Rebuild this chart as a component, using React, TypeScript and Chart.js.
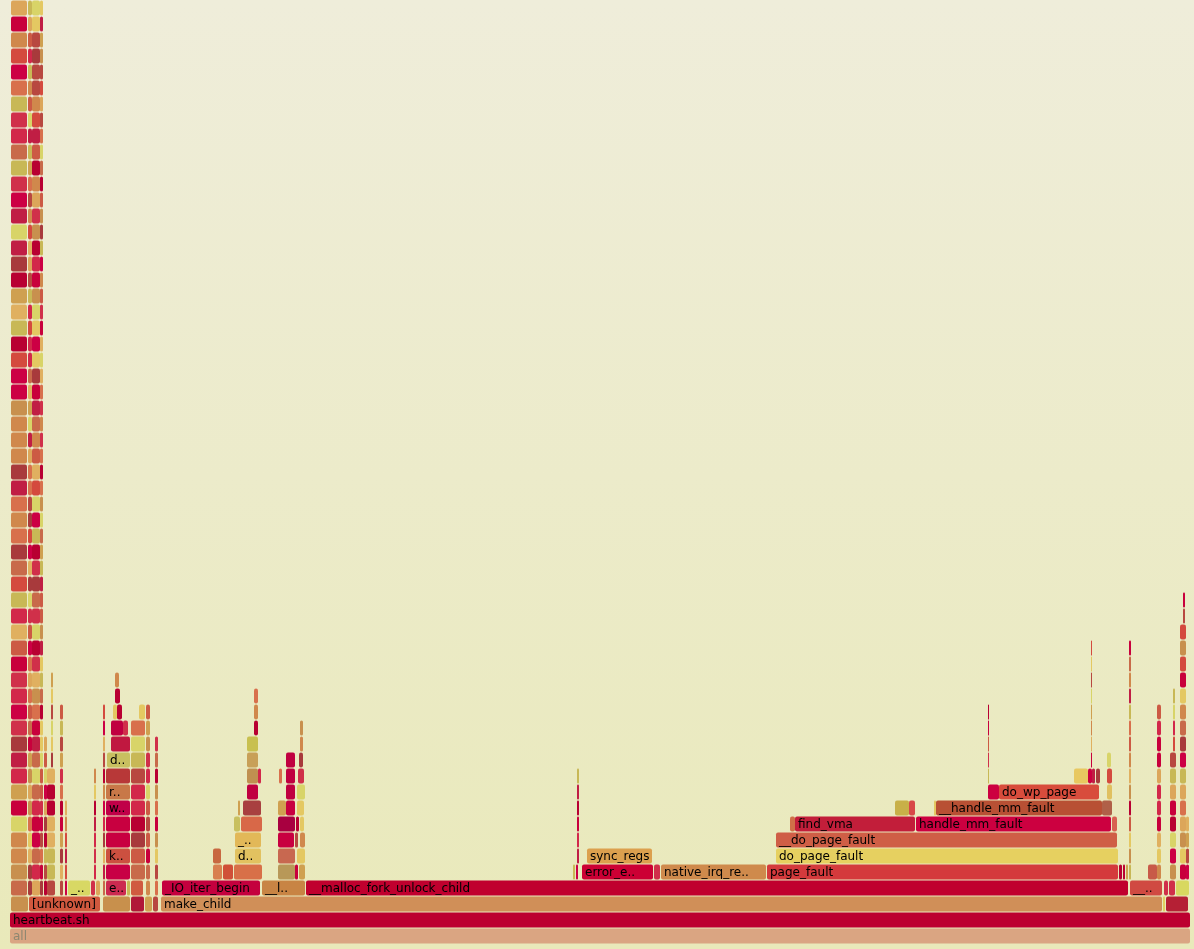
import React, { useEffect, useRef } from "react";
import { Chart, registerables } from "chart.js";

Chart.register(...registerables);

// A frame: [stack depth (level), first sample, last sample, label shown]
type Frame = [number, number, number, string];
// A column of one-sample-wide stack frames: [first sample, last sample, from level, to level]
type Column = [number, number, number, number];

const TOTAL_SAMPLES = 1180;
const LEVEL_COUNT = 59;
const levelLabels: string[] = Array.from({ length: LEVEL_COUNT }, (_, i) => String(i));

const baseFrames: Frame[] = [
  [0, 0, 1180, "all"],
  [1, 0, 1180, "heartbeat.sh"],
  [2, 1, 18, ""], [2, 19, 90, "[unknown]"], [2, 93, 120, ""], [2, 121, 134, ""],
  [2, 135, 142, ""], [2, 143, 148, ""], [2, 151, 1152, "make_child"],
  [2, 1153, 1155, ""], [2, 1156, 1178, ""],
  [3, 152, 250, "_IO_iter_begin"], [3, 252, 295, "__l.."],
  [3, 296, 1118, "__malloc_fork_unlock_child"], [3, 1120, 1152, "__.."],
  [3, 1154, 1158, ""], [3, 1159, 1165, ""], [3, 1166, 1179, ""],
];

const leftFrames: Frame[] = [
  [3, 58, 80, "_.."], [3, 81, 85, ""], [3, 86, 90, ""], [3, 96, 116, "e.."],
  [3, 117, 120, ""], [3, 121, 133, ""],
  [4, 96, 120, ""], [5, 96, 120, "k.."], [6, 96, 120, ""], [7, 96, 120, ""],
  [8, 96, 120, "w.."], [9, 96, 120, "r.."], [10, 96, 120, ""], [11, 97, 120, "d.."],
  [12, 101, 120, ""], [13, 101, 113, ""], [13, 113, 118, ""], [14, 103, 107, ""],
  [14, 107, 112, ""], [15, 105, 110, ""], [16, 105, 109, ""], [14, 129, 135, ""],
];

const middleFrames: Frame[] = [
  [4, 203, 212, ""], [5, 203, 211, ""], [4, 213, 223, ""], [4, 224, 252, ""],
  [5, 225, 251, "d.."], [6, 225, 251, "_.."], [7, 224, 230, ""], [7, 231, 252, ""],
  [8, 228, 230, ""], [8, 233, 251, ""], [9, 237, 248, ""], [10, 237, 248, ""],
  [10, 248, 251, ""], [11, 237, 248, ""], [12, 237, 248, ""], [13, 244, 248, ""],
  [14, 244, 248, ""], [15, 244, 248, ""],
  [4, 268, 285, ""], [4, 285, 288, ""], [4, 289, 295, ""], [5, 268, 285, ""],
  [5, 287, 295, ""], [6, 268, 284, ""], [6, 285, 288, ""], [6, 290, 295, ""],
  [7, 268, 285, ""], [7, 286, 289, ""], [7, 290, 294, ""], [8, 268, 276, ""],
  [8, 276, 285, ""], [8, 287, 294, ""], [9, 276, 285, ""], [9, 287, 295, ""],
  [10, 269, 272, ""], [10, 276, 285, ""], [10, 288, 294, ""], [11, 276, 285, ""],
  [11, 289, 293, ""], [12, 290, 293, ""], [13, 290, 293, ""],
];

const pageFaultFrames: Frame[] = [
  [4, 563, 565, ""], [4, 566, 568, ""], [4, 572, 643, "error_e.."], [4, 644, 650, ""],
  [4, 651, 756, "native_irq_re.."], [4, 757, 1108, "page_fault"],
  [5, 577, 642, "sync_regs"], [5, 766, 1108, "do_page_fault"],
  [6, 766, 1107, "__do_page_fault"],
  [7, 780, 785, ""], [7, 785, 905, "find_vma"], [7, 906, 1101, "handle_mm_fault"],
  [7, 1102, 1107, ""],
  [8, 885, 899, ""], [8, 899, 905, ""], [8, 924, 926, ""],
  [8, 926, 1092, "__handle_mm_fault"], [8, 1092, 1102, ""],
  [9, 978, 989, ""], [9, 989, 1089, "do_wp_page"], [9, 1097, 1102, ""],
  [10, 1064, 1078, ""], [10, 1078, 1082, ""], [10, 1082, 1085, ""],
  [10, 1086, 1090, ""], [10, 1097, 1102, ""], [11, 1097, 1101, ""],
];

const rightFrames: Frame[] = [
  [4, 1109, 1112, ""], [4, 1113, 1115, ""], [4, 1116, 1118, ""], [4, 1138, 1147, ""],
];

const towerColumns: Column[] = [
  [1, 17, 3, 58], [18, 22, 3, 58], [22, 30, 3, 58], [30, 33, 3, 58],
  [34, 37, 3, 12], [37, 45, 3, 10], [41, 43, 11, 16], [50, 53, 3, 14], [55, 57, 3, 8],
  [84, 86, 4, 10], [93, 95, 3, 14], [121, 135, 4, 13], [136, 140, 3, 14], [145, 148, 3, 12],
];

const thinColumns: Column[] = [
  [567, 569, 5, 10], [978, 979, 10, 14], [1081, 1082, 11, 18],
  [1119, 1121, 4, 18], [1147, 1151, 4, 14], [1160, 1166, 4, 11], [1163, 1165, 12, 15],
  [1170, 1176, 4, 19], [1173, 1175, 20, 21], [1176, 1179, 4, 7],
];

// ---- styles ----
const namedColors: Record<string, string> = {
  "all@0": "#daa582",
  "heartbeat.sh@1": "#bc0030",
  "[unknown]@2": "#d0583e",
  "make_child@2": "#d08f58",
  "_..@3": "#d8d864",
  "e..@3": "#cc2a50",
  "_IO_iter_begin@3": "#c4003e",
  "__l..@3": "#c88444",
  "__malloc_fork_unlock_child@3": "#c0002e",
  "__..@3": "#d04a42",
  "error_e..@4": "#cc0034",
  "native_irq_re..@4": "#cf8a4c",
  "page_fault@4": "#d43a3c",
  "sync_regs@5": "#dca04e",
  "do_page_fault@5": "#e6d060",
  "__do_page_fault@6": "#cf5e46",
  "find_vma@7": "#c21e3a",
  "handle_mm_fault@7": "#cc0040",
  "__handle_mm_fault@8": "#b85034",
  "do_wp_page@9": "#d84c3c",
  "k..@5": "#cc5040",
  "w..@8": "#c00048",
  "r..@9": "#c87848",
  "d..@11": "#c8c060",
  "d..@5": "#e2c260",
  "_..@6": "#e2b858",
};

// colours of some unlabeled frames, keyed by "level:first sample"
const unnamedColors: Record<string, string> = {
  "2:1": "#c8904e", "2:93": "#c8904c", "2:121": "#b01838", "2:1153": "#e0d060", "2:1156": "#b52035",
  "3:1166": "#d8d860", "3:121": "#d05a40",
  "4:96": "#c80045", "6:96": "#c80040", "7:96": "#c80040", "10:96": "#b83838",
  "12:101": "#c01840", "13:101": "#c00040",
  "4:203": "#d88050", "4:213": "#d05038", "4:224": "#d87048", "5:203": "#c86840",
  "7:224": "#c8c060", "7:231": "#d86848", "8:233": "#a84040", "9:237": "#c00040",
  "10:237": "#c09050", "11:237": "#c8a058", "12:237": "#c8c050",
  "4:268": "#b89858", "5:268": "#c86850", "6:268": "#c80040", "7:268": "#a80040",
  "8:268": "#d0a050", "8:276": "#c80040", "9:276": "#c00040", "10:276": "#c00040", "11:276": "#c00040",
  "7:780": "#d07048", "7:1102": "#d86050",
  "8:885": "#c8b048", "8:899": "#d84848", "8:1092": "#b06048",
  "9:978": "#cc0040", "9:1097": "#e0c060", "10:1064": "#e8c860", "10:1078": "#cc0040",
  "4:1138": "#c85a48",
};

const palette = [
  "#c8003c", "#cc0044", "#b80032", "#d0304a", "#d44a3e", "#cc5a44", "#d8704c",
  "#d0884c", "#c8904e", "#dca65a", "#e4c862", "#d8d468", "#c8b856", "#b84840",
  "#a83a3c", "#c01e44", "#e0b060", "#cfa050", "#d2284a", "#c86a4a",
];

function frameColor(f: Frame): string {
  const key = `${f[3]}@${f[0]}`;
  if (f[3] && namedColors[key]) return namedColors[key];
  const pos = `${f[0]}:${f[1]}`;
  if (!f[3] && unnamedColors[pos]) return unnamedColors[pos];
  let h = Math.imul(f[0] + 11, 2654435761) ^ Math.imul(f[1] + 7, 40503) ^ Math.imul(f[2] + 3, 2246822519);
  h ^= h >>> 13;
  h = Math.imul(h, 3266489917);
  h ^= h >>> 16;
  return palette[(h >>> 0) % palette.length];
}

function buildFrames(): Frame[] {
  const out: Frame[] = [];
  for (const c of [...towerColumns, ...thinColumns]) {
    for (let l = c[2]; l <= c[3]; l++) out.push([l, c[0], c[1], ""]);
  }
  return [...baseFrames, ...leftFrames, ...middleFrames, ...pageFaultFrames, ...rightFrames, ...out];
}

export default function App() {
  const ref = useRef<HTMLCanvasElement | null>(null);

  useEffect(() => {
    const canvas = ref.current;
    if (!canvas) return;
    const frames = buildFrames();

    const backgroundPlugin = {
      id: "flameBackground",
      beforeDraw(chart: Chart) {
        const { ctx, width, height } = chart;
        const g = ctx.createLinearGradient(0, 0, 0, height);
        g.addColorStop(0.0, "#efedda");
        g.addColorStop(1.0, "#e9e9ba");
        ctx.save();
        ctx.fillStyle = g;
        ctx.fillRect(0, 0, width, height);
        ctx.restore();
      },
    };

    const labelPlugin = {
      id: "flameLabels",
      afterDatasetsDraw(chart: Chart) {
        const ctx = chart.ctx;
        const meta = chart.getDatasetMeta(0);
        ctx.save();
        ctx.font = '12px "DejaVu Sans", Verdana, sans-serif';
        ctx.textBaseline = "alphabetic";
        ctx.textAlign = "left";
        meta.data.forEach((el: any, i: number) => {
          const f = frames[i];
          if (!f[3]) return;
          const left = Math.min(el.base, el.x);
          const right = Math.max(el.base, el.x);
          const top = el.y - el.height / 2;
          ctx.save();
          ctx.beginPath();
          ctx.rect(left, top, right - left, el.height);
          ctx.clip();
          ctx.fillStyle = f[0] === 0 ? "#8d8670" : "#000000";
          ctx.fillText(f[3], left + 3, el.y + 3.5);
          ctx.restore();
        });
        ctx.restore();
      },
    };

    const chart = new Chart(canvas, {
      type: "bar",
      data: {
        labels: levelLabels,
        datasets: [
          {
            data: frames.map((f) => ({ x: [f[1], f[2]], y: String(f[0]) })) as any,
            backgroundColor: frames.map(frameColor),
            borderWidth: 0,
            borderSkipped: false,
            borderRadius: 2,
            barThickness: 15,
            inflateAmount: 0,
          } as any,
        ],
      },
      options: {
        indexAxis: "y",
        responsive: false,
        maintainAspectRatio: false,
        animation: false,
        devicePixelRatio: 1,
        layout: { padding: { left: 10, right: 4, top: 0, bottom: 5 } },
        scales: {
          x: { type: "linear", min: 0, max: TOTAL_SAMPLES, display: false },
          y: { type: "category", labels: levelLabels, reverse: true, display: false, offset: true },
        },
        plugins: {
          legend: { display: false },
          tooltip: { enabled: false },
        },
        events: [],
      } as any,
      plugins: [backgroundPlugin, labelPlugin],
    });

    return () => chart.destroy();
  }, []);

  return (
    <div style={{ position: "fixed", left: 0, top: 0, width: 1194, height: 949 }}>
      <canvas ref={ref} width={1194} height={949} style={{ display: "block" }} />
    </div>
  );
}
